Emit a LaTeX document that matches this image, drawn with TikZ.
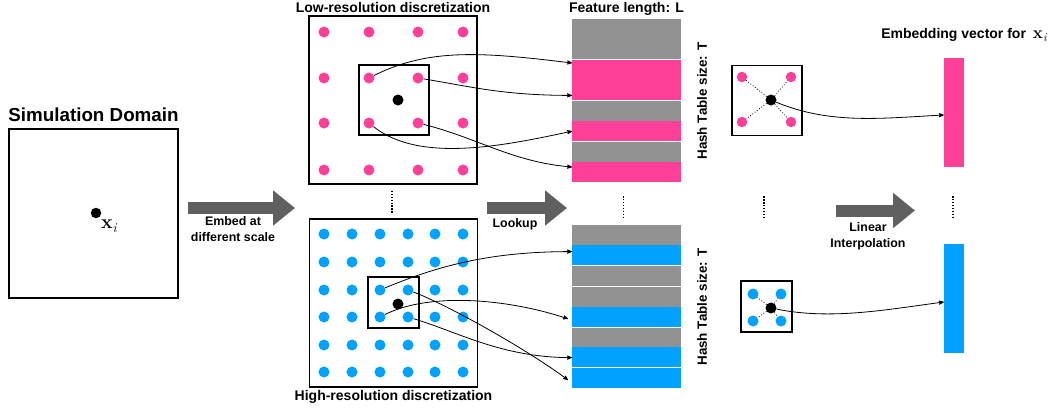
\documentclass[tikz,border=0pt]{standalone}
\usepackage{fontspec}
\newfontfamily\helv{Liberation Sans}
\usepackage{tikz}
\usetikzlibrary{arrows,arrows.meta,positioning,shapes}
\definecolor{hashpink}{RGB}{255,64,153}
\definecolor{hashblue}{RGB}{0,161,255}
\definecolor{slotgray}{RGB}{146,146,146}
\definecolor{arrowgray}{RGB}{96,96,96}
% bold x with italic subscript i, sizes given
\newcommand{\ptlabel}[2]{{\fontsize{#1}{#1}\selectfont\rmfamily\bfseries x}{\fontsize{#2}{#2}\selectfont\rmfamily\mdseries\itshape\raisebox{-0.3em}{i}}}
\tikzset{
    %Define standard arrow tip
    >=stealth',
    %Define style for boxes
    gridbox/.style={
           rectangle,
           draw=black, line width=1.8pt,
           inner sep=0pt},
    interpbox/.style={
           rectangle,
           draw=black, line width=1.8pt,
           inner sep=0pt},
    dot/.style={
           circle,
           fill=black,
           inner sep=0pt,
           minimum size=11pt},
    slot/.style={
           rectangle,
           inner sep=0pt, outer sep=0pt,
           minimum width=109pt,
           minimum height=20.4pt},
    slotsep/.style={
           draw=white, line width=1pt},
    vec/.style={
           rectangle,
           inner sep=0pt,
           minimum width=20pt,
           minimum height=109pt},
    %Define style for texts
    bigtitle/.style={
           font=\helv\bfseries\fontsize{18.8}{21}\selectfont,
           inner sep=1pt},
    title/.style={
           font=\helv\bfseries\fontsize{14}{16}\selectfont,
           inner sep=1pt},
    sidetitle/.style={
           font=\helv\bfseries\fontsize{13.4}{16}\selectfont,
           inner sep=1pt, rotate=90},
    smalllabel/.style={
           font=\helv\bfseries\fontsize{12.4}{15.5}\selectfont,
           align=center, inner sep=1pt},
    % Define arrow style
    link/.style={
           ->,
           line width=0.8pt},
    interp/.style={
           dotted, line width=0.8pt},
    vdots/.style={
           line width=1.6pt,
           dash pattern=on 1.3pt off 1.6pt},
    fatarrow/.style={
           draw=arrowgray, line width=12pt,
           -{Triangle[length=22pt,width=34pt]}}
}

\begin{document}
\begin{tikzpicture}[x=1pt,y=-1pt]
\useasboundingbox (0,0) rectangle (1053,413);

% simulation domain
\node[gridbox, line width=1.3pt, minimum size=169pt] (dom) at (93.5,213.5) {};
\node[bigtitle, above=5pt of dom] (domtitle) {Simulation Domain};
\node[dot, minimum size=10.5pt] (xi) at (96,213) {};
\node[below right=1.5pt and 0pt of xi, inner sep=1pt] (xilabel) {\ptlabel{19.5}{13.5}};

% low resolution grid
\node[gridbox, minimum size=168pt] (lo) at (393,100) {};
\node[title, above=1pt of lo] (lotitle) {Low-resolution discretization};
\foreach \x [count=\i] in {324,369,418,463}
  \foreach \y [count=\j] in {32,78,123,170}
    \node[dot, fill=hashpink] (lo-\i-\j) at (\x,\y) {};
\node[gridbox, line width=1.5pt, minimum size=70pt] (lowin) at (394,100) {};
\node[dot] (lopt) at (398,100) {};

% high resolution grid
\node[gridbox, minimum size=168pt] (hi) at (393.5,303) {};
\node[title, below=1pt of hi] (hititle) {High-resolution discretization};
\foreach \x [count=\i] in {324,352,380,408,435,463}
  \foreach \y [count=\j] in {234,262,290,317,345,372}
    \node[dot, fill=hashblue] (hi-\i-\j) at (\x,\y) {};
\node[gridbox, line width=1.5pt, minimum size=51pt] (hiwin) at (393.5,302.5) {};
\node[dot] (hipt) at (398,304) {};

% hash tables
\foreach \c [count=\k] in {slotgray,slotgray,hashpink,hashpink,slotgray,hashpink,slotgray,hashpink}
  \node[slot, fill=\c] (lt\k) at (626.5,{19+20.4*(\k-0.5)}) {};
\foreach \k in {2,4,6}
  \draw[slotsep] (lt\k.south west) -- (lt\k.south east);
\foreach \c [count=\k] in {slotgray,hashblue,slotgray,slotgray,hashblue,slotgray,hashblue,hashblue}
  \node[slot, fill=\c] (ht\k) at (626.5,{225+20.4*(\k-0.5)}) {};
\foreach \k in {2,3,5,7}
  \draw[slotsep] (ht\k.south west) -- (ht\k.south east);
\node[title, above=2pt of lt1] (flen) {Feature length: L};
\node[sidetitle] (lsize) at (702,101) {Hash Table size: T};
\node[sidetitle] (hsize) at (702,307) {Hash Table size: T};

% interpolation cells
\node[interpbox, minimum size=70pt] (lobox) at (767,100.5) {};
\foreach \k/\x/\y in {1/742/77,2/791/77,3/742/122,4/791/122}
  \node[dot, fill=hashpink, minimum size=10.5pt] (lc\k) at (\x,\y) {};
\node[dot] (lcpt) at (771,100) {};
\foreach \k in {1,...,4}
  \draw[interp] (lcpt) -- (lc\k);
\node[interpbox, minimum size=51pt] (hibox) at (766.5,306.5) {};
\foreach \k/\x/\y in {1/753/294,2/781/294,3/753/321,4/781/321}
  \node[dot, fill=hashblue] (hc\k) at (\x,\y) {};
\node[dot] (hcpt) at (771,308) {};
\foreach \k in {1,...,4}
  \draw[interp] (hcpt) -- (hc\k);

% embedding vectors
\node[vec, fill=hashpink] (lvec) at (954,112.5) {};
\node[vec, fill=hashblue] (hvec) at (954,298.5) {};
\node[title] (vtitle) at (964,35) {Embedding vector for\enspace\ptlabel{17}{12}};

% lookups
\draw[link] (lo-2-2) .. controls +(60,-30) and +(-90,-11) .. ([yshift=7pt]lt3.west);
\draw[link] (lo-3-2) .. controls +(50,8) and +(-70,0) .. ([yshift=-5pt]lt4.west);
\draw[link] (lo-2-3) .. controls +(50,40) and +(-70,15) .. (lt6.west);
\draw[link] (lo-3-3) .. controls +(60,15) and +(-60,-5) .. ([yshift=5pt]lt8.west);
\draw[link] (hi-3-3) .. controls +(60,-25) and +(-80,0) .. ([yshift=4pt]ht2.west);
\draw[link] (hi-3-4) .. controls +(50,-25) and +(-60,-20) .. ([xshift=-4pt,yshift=-2pt]ht5.west);
\draw[link] (hi-4-3) .. controls +(40,15) and +(-40,-30) .. ([xshift=-4pt,yshift=-2pt]ht8.west);
\draw[link] (hi-4-4) .. controls +(50,15) and +(-70,0) .. (ht7.west);
\draw[link] (lcpt) .. controls +(60,25) and +(-60,3) .. ([yshift=-2.5pt]lvec.west);
\draw[link] (hcpt) .. controls +(60,12) and +(-60,8) .. ([yshift=-3.5pt]hvec.west);

% stage arrows
\coordinate (embed-s) at (188,208);
\coordinate (embed-e) at (295,208);
\draw[fatarrow] (embed-s) -- (embed-e);
\node[smalllabel] (embedlbl) at (233,229) {Embed at\\different scale};
\coordinate (look-s) at (487,208);
\coordinate (look-e) at (567,208);
\draw[fatarrow] (look-s) -- (look-e);
\node[smalllabel] (looklbl) at (515,224) {Lookup};
\coordinate (lin-s) at (836,210.5);
\coordinate (lin-e) at (915,210.5);
\draw[fatarrow] (lin-s) -- (lin-e);
\node[smalllabel] (linlbl) at (868,236.5) {Linear\\Interpolation};

% vertical dots
\draw[vdots] (lo.south) ++(-1,6) -- ++(0,23);
\draw[vdots] (lt8.south) ++(-3,14) -- ++(0,23);
\draw[vdots] (lobox.south) ++(-3,60) -- ++(0,23);
\draw[vdots] (lvec.south) ++(-1,29) -- ++(0,23);
\end{tikzpicture}
\end{document}
